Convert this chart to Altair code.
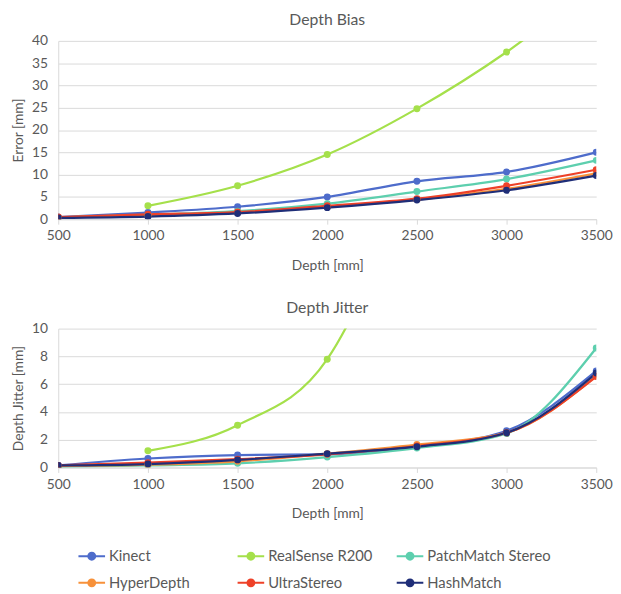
import altair as alt
import pandas as pd

depths = [500, 1000, 1500, 2000, 2500, 3000, 3500]
series = ["Kinect", "RealSense R200", "PatchMatch Stereo", "HyperDepth", "UltraStereo", "HashMatch"]
colors = ["#4E6CCB", "#A5E04B", "#5DCFAE", "#F7913A", "#EE4128", "#1F2E78"]

# Depth bias [mm] (None = no measurement)
bias_kinect = [0.5, 1.5, 2.8, 5.0, 8.5, 10.6, 15.0]
bias_realsense = [None, 3.0, 7.5, 14.5, 24.8, 37.5, 53.0]
bias_patchmatch = [0.4, 1.0, 1.8, 3.5, 6.2, 9.0, 13.2]
bias_hyperdepth = [0.4, 0.8, 1.5, 2.8, 4.4, 6.8, 10.3]
bias_ultrastereo = [0.5, 1.1, 1.6, 3.0, 4.6, 7.5, 11.1]
bias_hashmatch = [0.3, 0.6, 1.3, 2.6, 4.3, 6.5, 9.8]

# Depth jitter [mm]
jit_kinect = [0.15, 0.65, 0.9, 0.95, 1.5, 2.65, 6.95]
jit_realsense = [None, 1.2, 3.05, 7.8, 22.0, None, None]
jit_patchmatch = [0.05, 0.15, 0.3, 0.75, 1.4, 2.45, 8.6]
jit_hyperdepth = [0.1, 0.2, 0.45, 1.0, 1.65, 2.5, 6.6]
jit_ultrastereo = [0.15, 0.35, 0.6, 0.95, 1.55, 2.5, 6.55]
jit_hashmatch = [0.15, 0.25, 0.55, 1.0, 1.5, 2.5, 6.8]

bias = [bias_kinect, bias_realsense, bias_patchmatch, bias_hyperdepth, bias_ultrastereo, bias_hashmatch]
jit = [jit_kinect, jit_realsense, jit_patchmatch, jit_hyperdepth, jit_ultrastereo, jit_hashmatch]


def to_df(table):
    rows = []
    for i, (name, vals) in enumerate(zip(series, table)):
        for d, v in zip(depths, vals):
            if v is not None:
                rows.append({"Depth": d, "Value": v, "Series": name, "order": i})
    return pd.DataFrame(rows)


FONT = "Lato"
TXT = "#595959"
GRID = "#D9D9D9"

legend_symbol = "M-1.35,0H1.35M-0.35,0A0.35,0.35,0,1,1,0.35,0A0.35,0.35,0,1,1,-0.35,0Z"

color_enc = alt.Color(
    "Series:N",
    scale=alt.Scale(domain=series, range=colors),
    sort=series,
    legend=alt.Legend(
        title=None,
        orient="none",
        legendX=23,
        legendY=512,
        direction="horizontal",
        columns=3,
        gridAlign="all",
        symbolType=legend_symbol,
        symbolSize=400,
        symbolStrokeWidth=2,
        labelFont=FONT,
        labelFontSize=15,
        labelColor=TXT,
        labelOffset=6.5,
        columnPadding=0.5,
        rowPadding=8,
        labelLimit=200,
    ),
)


def panel(df, title, ytitle, ymax, ystep, height):
    x = alt.X(
        "Depth:Q",
        scale=alt.Scale(domain=[500, 3500], nice=False, zero=False),
        axis=alt.Axis(
            values=depths,
            format="d",
            title="Depth [mm]",
            grid=False,
            ticks=True,
            tickSize=5,
            tickColor=GRID,
            domainColor=GRID,
            labelFlush=False,
            labelPadding=5,
            titlePadding=16,
            labelFont=FONT,
            labelFontSize=14,
            labelColor=TXT,
            titleFont=FONT,
            titleFontSize=14,
            titleFontWeight="normal",
            titleColor=TXT,
        ),
    )
    y = alt.Y(
        "Value:Q",
        scale=alt.Scale(domain=[0, ymax], nice=False),
        axis=alt.Axis(
            values=list(range(0, ymax + 1, ystep)),
            title=ytitle,
            grid=True,
            gridColor=GRID,
            ticks=False,
            domainColor=GRID,
            labelPadding=11,
            titlePadding=6,
            labelFont=FONT,
            labelFontSize=14,
            labelColor=TXT,
            titleFont=FONT,
            titleFontSize=14,
            titleFontWeight="normal",
            titleColor=TXT,
        ),
    )
    base = alt.Chart(df)
    lines = base.mark_line(interpolate="monotone", strokeWidth=2.25, clip=True).encode(
        x=x, y=y, color=color_enc, order="order:Q"
    )
    pts = base.mark_point(filled=True, size=50, opacity=1, clip=True).encode(
        x=x, y=y, color=color_enc
    )
    return alt.layer(lines, pts).properties(
        width=546,
        height=height,
        title=alt.TitleParams(title, font=FONT, fontSize=16, fontWeight="normal", color=TXT, offset=6),
    )


top = panel(to_df(bias), "Depth Bias", "Error [mm]", 40, 5, 181)
bottom = panel(to_df(jit), "Depth Jitter", "Depth Jitter [mm]", 10, 2, 141)

chart = (
    alt.vconcat(top, bottom, spacing=28)
    .properties(padding={"left": 3, "top": 0, "right": 0, "bottom": 0})
    .configure_view(stroke=None)
)

chart.save("out.html", embed_options={"renderer": "svg", "actions": False})
